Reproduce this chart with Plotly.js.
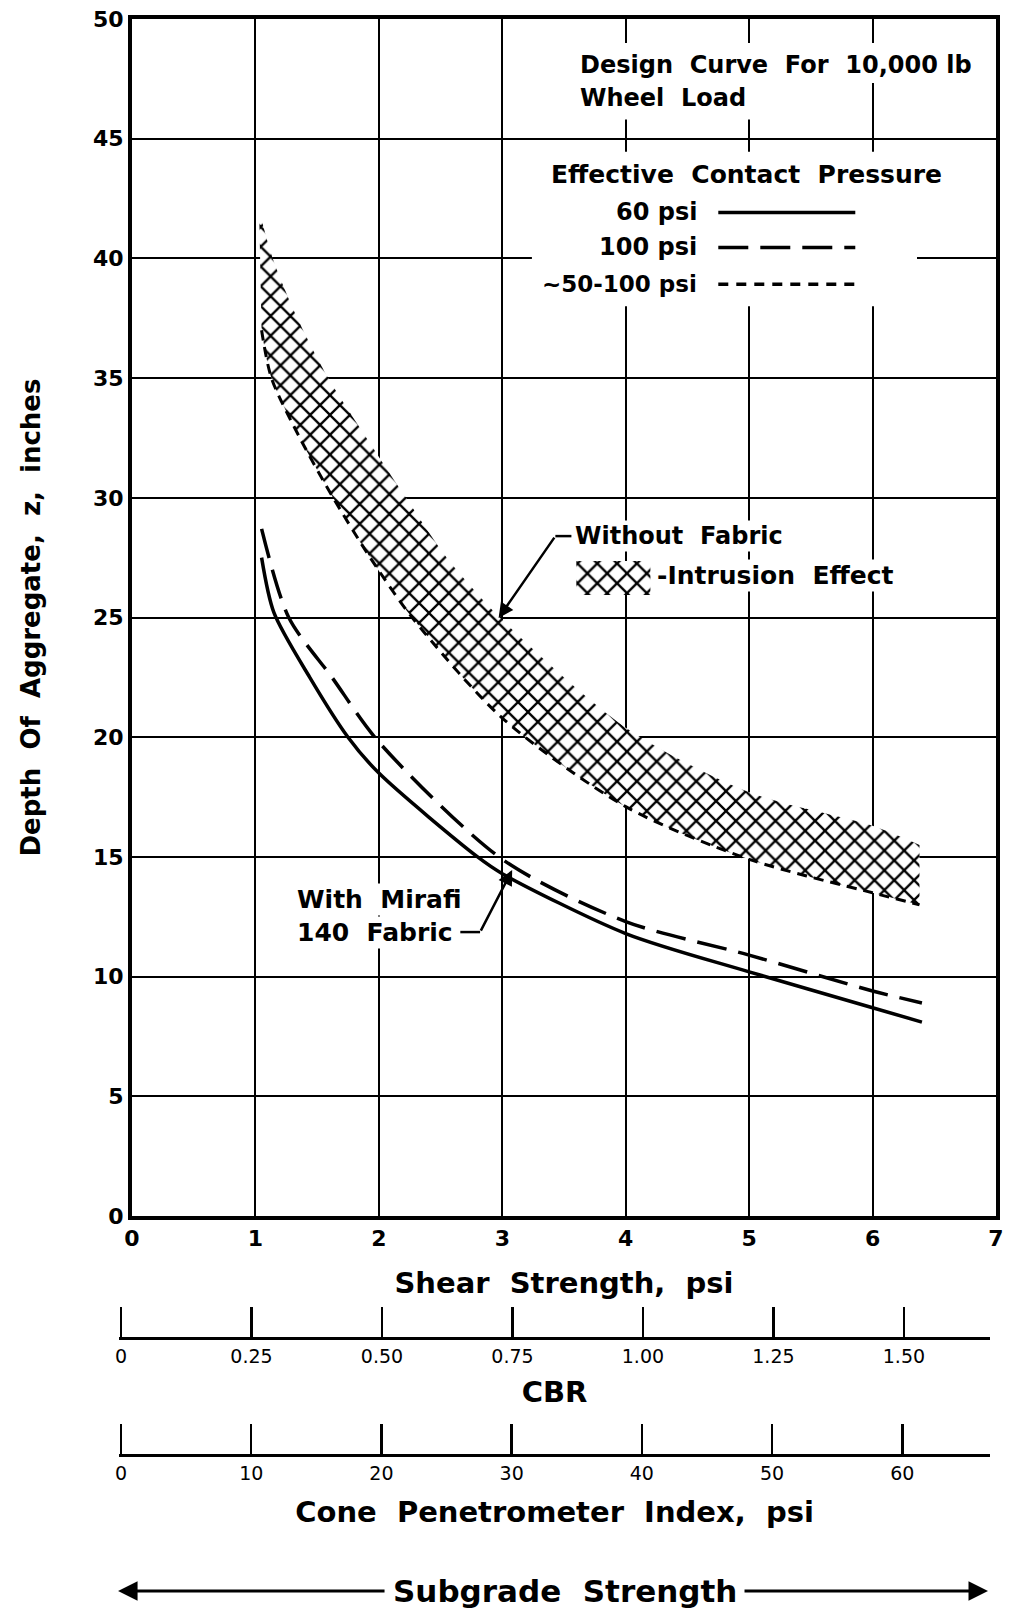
<!DOCTYPE html>
<html>
<head>
<meta charset="utf-8">
<script src="https://cdn.plot.ly/plotly-3.0.1.min.js"></script>
<style>html,body{margin:0;padding:0;background:#fff;}#chart{width:1010px;height:1615px;}</style>
</head>
<body>
<div id="chart"></div>
<script>
// ---- data ----
// Without fabric band (intrusion effect)
var bandUpperX = [1.03, 1.14, 1.34, 1.59, 1.90, 2.22, 2.55, 3.0, 4.0, 5.0, 6.0, 6.38];
var bandUpperY = [42, 40, 37.5, 35, 32.5, 30, 27.5, 24.9, 20.4, 17.7, 16.3, 15.5];
var bandLowerX = [1.05, 1.13, 1.36, 1.63, 1.93, 2.27, 3.0, 4.0, 5.0, 6.0, 6.38];
var bandLowerY = [37, 35, 32.5, 30, 27.5, 25, 20.8, 17.1, 14.9, 13.5, 13.0];
// With Mirafi 140 fabric
var psi60X = [1.05, 1.15, 1.44, 1.75, 2.0, 2.8, 3.0, 4.0, 5.0, 6.0, 6.4];
var psi60Y = [27.5, 25.2, 22.5, 20, 18.5, 15, 14.3, 11.8, 10.2, 8.7, 8.1];
var psi100X = [1.05, 1.27, 1.62, 2.0, 3.0, 4.0, 5.0, 6.0, 6.4];
var psi100Y = [28.7, 25, 22.5, 19.8, 14.9, 12.3, 10.9, 9.4, 8.9];
// legend swatch for the hatch
var swatchX = [3.6, 4.2, 4.2, 3.6];
var swatchY = [27.36, 27.36, 25.94, 25.94];
// axes
var shearTicks = [0, 1, 2, 3, 4, 5, 6, 7];
var depthTicks = [0, 5, 10, 15, 20, 25, 30, 35, 40, 45, 50];
var cbrTicks = [0, 0.25, 0.5, 0.75, 1.0, 1.25, 1.5];
var cbrLabels = ['0', '0.25', '0.50', '0.75', '1.00', '1.25', '1.50'];
var coneTicks = [0, 10, 20, 30, 40, 50, 60];
var coneLabels = ['0', '10', '20', '30', '40', '50', '60'];

var F = 'DejaVu Sans, Noto Sans, sans-serif';
var hatch = {shape: 'x', size: 14, solidity: 0.3, fgcolor: '#000', bgcolor: '#fff', fillmode: 'replace'};
function fnt(s, w) { return {family: F, size: s, color: '#000', weight: w || 'bold'}; }

var traces = [
  {x: bandUpperX, y: bandUpperY, mode: 'lines', line: {width: 0, shape: 'spline', smoothing: 0.8, color: 'rgba(0,0,0,0)'}, hoverinfo: 'skip', showlegend: false},
  {x: bandLowerX, y: bandLowerY, mode: 'lines', fill: 'tonexty', fillpattern: hatch, fillcolor: '#fff',
   line: {width: 3, color: '#000', dash: '10px,7px', shape: 'spline', smoothing: 0.8}, name: '~50-100 psi', showlegend: false},
  {x: psi60X, y: psi60Y, mode: 'lines', line: {width: 3.5, color: '#000', shape: 'spline', smoothing: 0.8}, name: '60 psi', showlegend: false},
  {x: psi100X, y: psi100Y, mode: 'lines', line: {width: 3.5, color: '#000', dash: '30px,12px', shape: 'spline', smoothing: 0.8}, name: '100 psi', showlegend: false},
  {x: swatchX, y: swatchY, mode: 'lines', fill: 'toself', fillpattern: hatch, fillcolor: '#fff', line: {width: 0, color: 'rgba(0,0,0,0)'}, hoverinfo: 'skip', showlegend: false},
  {x: cbrTicks, y: cbrTicks.map(function(){return 0.5;}), xaxis: 'x2', yaxis: 'y2', mode: 'none', hoverinfo: 'skip', showlegend: false},
  {x: coneTicks, y: coneTicks.map(function(){return 0.5;}), xaxis: 'x3', yaxis: 'y2', mode: 'none', hoverinfo: 'skip', showlegend: false}
];

var axBase = {showgrid: true, gridcolor: '#000', gridwidth: 2, showline: true, linecolor: '#000', linewidth: 4,
  mirror: true, ticks: '', zeroline: false, tickfont: fnt(22)};
var subBase = {anchor: 'free', side: 'bottom', domain: [0, 0.9932], ticks: 'inside', ticklen: 30, tickwidth: 2.5,
  tickcolor: '#000', showline: true, linecolor: '#000', linewidth: 3, showgrid: false, zeroline: false,
  tickfont: fnt(19, 'normal')};

var layout = {
  width: 1010, height: 1615,
  margin: {l: 119, r: 14, t: 19, b: 10},
  paper_bgcolor: '#fff', plot_bgcolor: '#fff',
  showlegend: false,
  xaxis: Object.assign({}, axBase, {range: [0, 7], tickvals: shearTicks, anchor: 'y', domain: [0.014823, 1],
    title: {text: 'Shear  Strength,  psi', font: fnt(29), standoff: 23}}),
  yaxis: Object.assign({}, axBase, {range: [0, 50], tickvals: depthTicks, domain: [0.24527, 1], anchor: 'x',
    title: {text: 'Depth  Of  Aggregate,  z,  inches', font: fnt(26), standoff: 46}}),
  yaxis2: {domain: [0, 0.001], range: [0, 1], visible: false, anchor: 'x2'},
  xaxis2: Object.assign({}, subBase, {position: 0.16835, range: [-0.0038, 1.665],
    tickvals: cbrTicks, ticktext: cbrLabels,
    title: {text: 'CBR', font: fnt(29), standoff: 15}}),
  xaxis3: Object.assign({}, subBase, {position: 0.09458, range: [-0.154, 66.74],
    tickvals: coneTicks, ticktext: coneLabels,
    title: {text: 'Cone  Penetrometer  Index,  psi', font: fnt(29), standoff: 18}}),
  shapes: [
    // white panels behind the text blocks (grid interrupted there)
    {type: 'rect', xref: 'x', yref: 'y', x0: 3.5, x1: 6.85, y0: 47.33, y1: 49.0, fillcolor: '#fff', line: {width: 0}, layer: 'between'},
    {type: 'rect', xref: 'x', yref: 'y', x0: 3.5, x1: 5.3, y0: 45.8, y1: 47.33, fillcolor: '#fff', line: {width: 0}, layer: 'between'},
    {type: 'rect', xref: 'x', yref: 'y', x0: 3.24, x1: 6.36, y0: 38.0, y1: 44.45, fillcolor: '#fff', line: {width: 0}, layer: 'between'},
    // legend line samples
    {type: 'line', xref: 'x', yref: 'y', x0: 4.75, x1: 5.86, y0: 41.92, y1: 41.92, line: {color: '#000', width: 3.5}},
    {type: 'line', xref: 'x', yref: 'y', x0: 4.75, x1: 5.86, y0: 40.46, y1: 40.46, line: {color: '#000', width: 3.5, dash: '30px,12px'}},
    {type: 'line', xref: 'x', yref: 'y', x0: 4.75, x1: 5.86, y0: 38.92, y1: 38.92, line: {color: '#000', width: 3.5, dash: '10px,8px'}},
    // leader stubs
    {type: 'line', xref: 'x', yref: 'y', x0: 3.43, x1: 3.56, y0: 28.4, y1: 28.4, line: {color: '#000', width: 2.5}},
    {type: 'line', xref: 'x', yref: 'y', x0: 2.66, x1: 2.82, y0: 11.86, y1: 11.86, line: {color: '#000', width: 2.5}}
  ],
  annotations: [
    {xref: 'x', yref: 'y', x: 3.61, y: 48.08, xanchor: 'left', yanchor: 'middle', showarrow: false,
     text: 'Design  Curve  For  10,000 lb', font: fnt(24)},
    {xref: 'x', yref: 'y', x: 3.61, y: 46.7, xanchor: 'left', yanchor: 'middle', showarrow: false,
     text: 'Wheel  Load', font: fnt(24)},
    {xref: 'x', yref: 'y', x: 3.38, y: 43.5, xanchor: 'left', yanchor: 'middle', showarrow: false,
     text: 'Effective  Contact  Pressure', font: fnt(25)},
    {xref: 'x', yref: 'y', x: 4.59, y: 41.92, xanchor: 'right', yanchor: 'middle', showarrow: false,
     text: '60 psi', font: fnt(24)},
    {xref: 'x', yref: 'y', x: 4.59, y: 40.46, xanchor: 'right', yanchor: 'middle', showarrow: false,
     text: '100 psi', font: fnt(24)},
    {xref: 'x', yref: 'y', x: 4.59, y: 38.92, xanchor: 'right', yanchor: 'middle', showarrow: false,
     text: '~50-100 psi', font: fnt(23)},
    {xref: 'x', yref: 'y', x: 3.57, y: 28.4, xanchor: 'left', yanchor: 'middle', showarrow: false, bgcolor: '#fff',
     text: 'Without  Fabric', font: fnt(24)},
    {xref: 'x', yref: 'y', x: 4.24, y: 26.75, xanchor: 'left', yanchor: 'middle', showarrow: false, bgcolor: '#fff',
     text: '-Intrusion  Effect', font: fnt(25)},
    {xref: 'x', yref: 'y', x: 1.32, y: 13.2, xanchor: 'left', yanchor: 'middle', showarrow: false, bgcolor: '#fff',
     text: 'With  Mirafi', font: fnt(25)},
    {xref: 'x', yref: 'y', x: 1.32, y: 11.86, xanchor: 'left', yanchor: 'middle', showarrow: false, bgcolor: '#fff',
     text: '140  Fabric', font: fnt(25)},
    // leader arrows
    {xref: 'x', yref: 'y', axref: 'x', ayref: 'y', x: 2.97, y: 24.98, ax: 3.43, ay: 28.4, text: '',
     showarrow: true, arrowhead: 2, arrowsize: 1.2, arrowwidth: 2.5, arrowcolor: '#000', standoff: 0, startstandoff: 0},
    {xref: 'x', yref: 'y', axref: 'x', ayref: 'y', x: 3.08, y: 14.45, ax: 2.82, ay: 11.86, text: '',
     showarrow: true, arrowhead: 2, arrowsize: 1.2, arrowwidth: 2.5, arrowcolor: '#000', standoff: 0, startstandoff: 0},
    // subgrade strength
    {xref: 'paper', yref: 'paper', x: 0.5086, y: 0.0088, xanchor: 'center', yanchor: 'middle', showarrow: false,
     text: 'Subgrade  Strength', font: fnt(31)},
    {xref: 'paper', yref: 'paper', x: -0.0011, y: 0.0088, axref: 'pixel', ayref: 'pixel', ax: 268, ay: 0, text: '',
     showarrow: true, arrowhead: 2, arrowsize: 1.3, arrowwidth: 3, arrowcolor: '#000', standoff: 0},
    {xref: 'paper', yref: 'paper', x: 0.9909, y: 0.0088, axref: 'pixel', ayref: 'pixel', ax: -245, ay: 0, text: '',
     showarrow: true, arrowhead: 2, arrowsize: 1.3, arrowwidth: 3, arrowcolor: '#000', standoff: 0}
  ]
};

Plotly.newPlot('chart', traces, layout, {staticPlot: true, displayModeBar: false});
</script>
</body>
</html>
